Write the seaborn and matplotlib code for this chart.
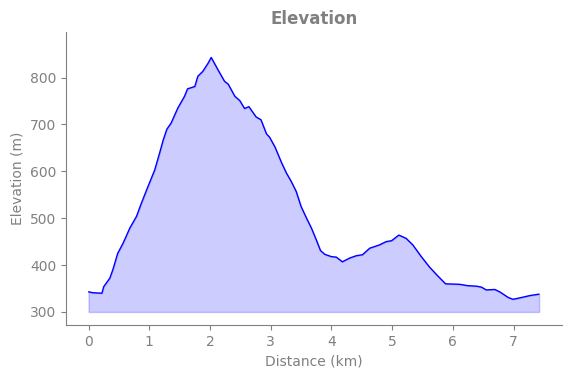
import pandas as pd
import seaborn as sns
import matplotlib.pyplot as plt

distance_km = [0.00, 0.07, 0.22, 0.25, 0.35, 0.40, 0.48, 0.57, 0.68, 0.79, 0.87, 0.98,
               1.09, 1.17, 1.23, 1.29, 1.36, 1.47, 1.58, 1.63, 1.75, 1.80, 1.88, 1.97,
               2.02, 2.13, 2.24, 2.30, 2.41, 2.49, 2.57, 2.64, 2.76, 2.84, 2.93, 2.98,
               3.07, 3.18, 3.26, 3.34, 3.42, 3.50, 3.59, 3.67, 3.75, 3.82, 3.89, 4.00,
               4.08, 4.18, 4.30, 4.41, 4.51, 4.63, 4.79, 4.90, 4.99, 5.11, 5.23, 5.34,
               5.48, 5.62, 5.75, 5.88, 6.11, 6.25, 6.39, 6.47, 6.55, 6.69, 6.77, 6.91,
               6.99, 7.10, 7.27, 7.42]
elevation_m = [343, 341, 340, 354, 372, 390, 425, 447, 479, 504, 532, 568,
               603, 639, 667, 690, 703, 735, 760, 776, 781, 803, 813, 831,
               843, 817, 792, 786, 760, 751, 734, 738, 716, 710, 680, 673,
               652, 618, 596, 578, 557, 525, 500, 479, 454, 431, 423, 418,
               417, 407, 415, 420, 422, 436, 443, 450, 452, 464, 457, 443,
               418, 395, 377, 360, 359, 356, 355, 353, 347, 348, 343, 331,
               327, 330, 335, 338]

df = pd.DataFrame({'distance': distance_km, 'elevation': elevation_m})

sns.set_style('ticks')
grey = '#808080'
plt.rcParams['font.family'] = ['DejaVu Sans']

fig = plt.figure(figsize=(5.71, 3.78), dpi=100)
ax = fig.add_axes([0.1156, 0.140, 0.868, 0.775])

ax.fill_between(df['distance'], df['elevation'], 300, color='blue', alpha=0.2)
sns.lineplot(data=df, x='distance', y='elevation', color='blue', linewidth=1, ax=ax)

ax.set_ylim(272, 897)
ax.set_title('Elevation', fontsize=12, fontweight='bold', color=grey)
ax.set_xlabel('Distance (km)', color=grey)
ax.set_ylabel('Elevation (m)', color=grey)
ax.tick_params(colors=grey)
sns.despine(ax=ax)
for s in ['left', 'bottom']:
    ax.spines[s].set_color(grey)

fig.savefig('out.png', dpi=100)
